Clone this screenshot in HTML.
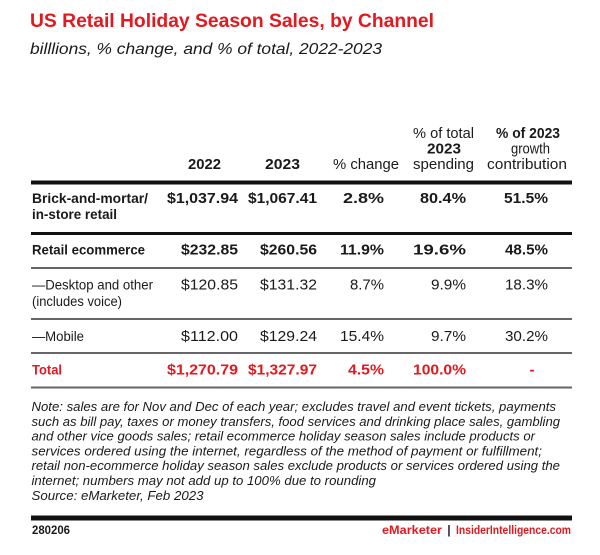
<!DOCTYPE html>
<html>
<head>
<meta charset="utf-8">
<style>
  html, body { margin: 0; padding: 0; background: #ffffff; }
  svg { display: block; }
  text { font-family: "Liberation Sans", Arial, sans-serif; }
  .b { font-weight: bold; }
  .i { font-style: italic; }
  .red { fill: #e2191f; }
  .dk { fill: #1a1a1a; }
</style>
</head>
<body>
<svg width="600" height="555" viewBox="0 0 600 555" xmlns="http://www.w3.org/2000/svg">
  <rect x="0" y="0" width="600" height="555" fill="#ffffff"/>

  <!-- Title -->
  <text x="30" y="27" font-size="19" class="b red" textLength="404" lengthAdjust="spacingAndGlyphs">US Retail Holiday Season Sales, by Channel</text>
  <text x="30" y="54" font-size="16" class="i dk" textLength="352" lengthAdjust="spacingAndGlyphs">billlions, % change, and % of total, 2022-2023</text>

  <!-- Header -->
  <g font-size="15" class="dk">
    <text x="188" y="169" class="b" textLength="33" lengthAdjust="spacingAndGlyphs">2022</text>
    <text x="265" y="169" class="b" textLength="35" lengthAdjust="spacingAndGlyphs">2023</text>
    <text x="333" y="169" textLength="66" lengthAdjust="spacingAndGlyphs">% change</text>
    <text x="413" y="138" textLength="61" lengthAdjust="spacingAndGlyphs">% of total</text>
    <text x="427" y="153.5" class="b" textLength="34" lengthAdjust="spacingAndGlyphs">2023</text>
    <text x="413" y="169" textLength="61" lengthAdjust="spacingAndGlyphs">spending</text>
    <text x="496" y="138" class="b" textLength="64" lengthAdjust="spacingAndGlyphs">% of 2023</text>
    <text x="511" y="153.5" textLength="39" lengthAdjust="spacingAndGlyphs">growth</text>
    <text x="487" y="169" textLength="80" lengthAdjust="spacingAndGlyphs">contribution</text>
  </g>

  <!-- Rules -->
  <rect x="31" y="180.5" width="541" height="4" fill="#111"/>
  <rect x="31" y="232" width="541" height="3" fill="#111"/>
  <rect x="31" y="267" width="541" height="2" fill="#666"/>
  <rect x="31" y="318" width="541" height="2" fill="#666"/>
  <rect x="31" y="352" width="541" height="2" fill="#666"/>
  <rect x="31" y="386.5" width="541" height="2" fill="#666"/>

  <!-- Brick-and-mortar -->
  <g font-size="14" class="b dk">
    <text x="32" y="203" textLength="116" lengthAdjust="spacingAndGlyphs">Brick-and-mortar/</text>
    <text x="32" y="219" textLength="85" lengthAdjust="spacingAndGlyphs">in-store retail</text>
  </g>
  <g font-size="15" class="b dk" text-anchor="end">
    <text x="238" y="203" textLength="71" lengthAdjust="spacingAndGlyphs">$1,037.94</text>
    <text x="317" y="203" textLength="69" lengthAdjust="spacingAndGlyphs">$1,067.41</text>
    <text x="384" y="203" textLength="41" lengthAdjust="spacingAndGlyphs">2.8%</text>
    <text x="466" y="203" textLength="46" lengthAdjust="spacingAndGlyphs">80.4%</text>
    <text x="548" y="203" textLength="44" lengthAdjust="spacingAndGlyphs">51.5%</text>
  </g>

  <!-- Retail ecommerce -->
  <text x="32" y="254.5" font-size="14" class="b dk" textLength="113" lengthAdjust="spacingAndGlyphs">Retail ecommerce</text>
  <g font-size="15" class="b dk" text-anchor="end">
    <text x="238" y="254.5" textLength="57" lengthAdjust="spacingAndGlyphs">$232.85</text>
    <text x="317" y="254.5" textLength="57" lengthAdjust="spacingAndGlyphs">$260.56</text>
    <text x="384" y="254.5" textLength="44" lengthAdjust="spacingAndGlyphs">11.9%</text>
    <text x="466" y="254.5" textLength="53" lengthAdjust="spacingAndGlyphs">19.6%</text>
    <text x="548" y="254.5" textLength="43" lengthAdjust="spacingAndGlyphs">48.5%</text>
  </g>

  <!-- Desktop -->
  <g font-size="14" class="dk">
    <text x="32" y="289.5" textLength="121" lengthAdjust="spacingAndGlyphs">—Desktop and other</text>
    <text x="32" y="306" textLength="90" lengthAdjust="spacingAndGlyphs">(includes voice)</text>
  </g>
  <g font-size="15" class="dk" text-anchor="end">
    <text x="238" y="289.5" textLength="57" lengthAdjust="spacingAndGlyphs">$120.85</text>
    <text x="317" y="289.5" textLength="57" lengthAdjust="spacingAndGlyphs">$131.32</text>
    <text x="384" y="289.5" textLength="34" lengthAdjust="spacingAndGlyphs">8.7%</text>
    <text x="466" y="289.5" textLength="35" lengthAdjust="spacingAndGlyphs">9.9%</text>
    <text x="548" y="289.5" textLength="43" lengthAdjust="spacingAndGlyphs">18.3%</text>
  </g>

  <!-- Mobile -->
  <text x="32" y="341" font-size="14" class="dk" textLength="52" lengthAdjust="spacingAndGlyphs">—Mobile</text>
  <g font-size="15" class="dk" text-anchor="end">
    <text x="238" y="341" textLength="57" lengthAdjust="spacingAndGlyphs">$112.00</text>
    <text x="317" y="341" textLength="57" lengthAdjust="spacingAndGlyphs">$129.24</text>
    <text x="384" y="341" textLength="44" lengthAdjust="spacingAndGlyphs">15.4%</text>
    <text x="466" y="341" textLength="35" lengthAdjust="spacingAndGlyphs">9.7%</text>
    <text x="548" y="341" textLength="43" lengthAdjust="spacingAndGlyphs">30.2%</text>
  </g>

  <!-- Total -->
  <text x="32" y="374.5" font-size="14" class="b red" textLength="30" lengthAdjust="spacingAndGlyphs">Total</text>
  <g font-size="15" class="b red" text-anchor="end">
    <text x="238" y="374.5" textLength="71" lengthAdjust="spacingAndGlyphs">$1,270.79</text>
    <text x="317" y="374.5" textLength="69" lengthAdjust="spacingAndGlyphs">$1,327.97</text>
    <text x="384" y="374.5" textLength="36" lengthAdjust="spacingAndGlyphs">4.5%</text>
    <text x="466" y="374.5" textLength="53" lengthAdjust="spacingAndGlyphs">100.0%</text>
  </g>
  <text x="532" y="374.5" font-size="15" class="b red" text-anchor="middle">-</text>

  <!-- Notes -->
  <g font-size="13" class="i dk">
    <text x="31.5" y="411" textLength="524.5" lengthAdjust="spacingAndGlyphs">Note: sales are for Nov and Dec of each year; excludes travel and event tickets, payments</text>
    <text x="31.5" y="425.8" textLength="528.5" lengthAdjust="spacingAndGlyphs">such as bill pay, taxes or money transfers, food services and drinking place sales, gambling</text>
    <text x="31.5" y="440.6" textLength="503.5" lengthAdjust="spacingAndGlyphs">and other vice goods sales; retail ecommerce holiday season sales include products or</text>
    <text x="31.5" y="455.4" textLength="510.5" lengthAdjust="spacingAndGlyphs">services ordered using the internet, regardless of the method of payment or fulfillment;</text>
    <text x="31.5" y="470.2" textLength="528.5" lengthAdjust="spacingAndGlyphs">retail non-ecommerce holiday season sales exclude products or services ordered using the</text>
    <text x="31.5" y="485" textLength="344.5" lengthAdjust="spacingAndGlyphs">internet; numbers may not add up to 100% due to rounding</text>
    <text x="31.5" y="499.8" textLength="172" lengthAdjust="spacingAndGlyphs">Source: eMarketer, Feb 2023</text>
  </g>

  <!-- Footer -->
  <rect x="31" y="515.5" width="541" height="5" fill="#111"/>
  <text x="32" y="534" font-size="11.5" class="b dk" textLength="38" lengthAdjust="spacingAndGlyphs">280206</text>
  <text x="382" y="534" font-size="11.5" class="b red" textLength="60" lengthAdjust="spacingAndGlyphs">eMarketer</text>
  <text x="449" y="534" font-size="11.5" class="b dk" text-anchor="middle">|</text>
  <text x="456" y="534" font-size="11.5" class="b red" textLength="115" lengthAdjust="spacingAndGlyphs">InsiderIntelligence.com</text>
</svg>
</body>
</html>
